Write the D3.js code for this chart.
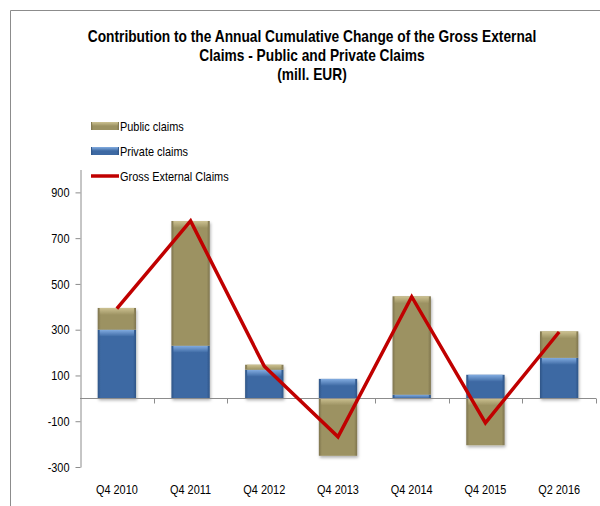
<!DOCTYPE html>
<html>
<head>
<meta charset="utf-8">
<script src="https://cdn.jsdelivr.net/npm/d3@7"></script>
<style>
  html, body { margin: 0; padding: 0; background: #fff; }
</style>
</head>
<body>
<div id="chart"></div>
<script>
// data (mill. EUR)
const categories = ["Q4 2010", "Q4 2011", "Q4 2012", "Q4 2013", "Q4 2014", "Q4 2015", "Q2 2016"];
const privateClaims = [300, 230, 125, 85, 16, 103, 177];
const publicClaims = [95, 545, 22, -251, 430, -205, 116];
const grossClaims = [392, 775, 140, -168, 444, -107, 290];
const yTicks = [-300, -100, 100, 300, 500, 700, 900];
const titleLines = [
  "Contribution to the Annual Cumulative Change of the Gross External",
  "Claims  - Public and Private Claims",
  "(mill.  EUR)"
];

function main(container) {
  const sel = d3.select(container);
  const width = 600;
  const height = 506;
  const font = "'Liberation Sans', Arial, sans-serif";

  // narrow look: squeeze text horizontally
  function squeeze(s, ratio) {
    s.each(function () {
      const w = this.getComputedTextLength();
      d3.select(this)
        .attr("textLength", w * ratio)
        .attr("lengthAdjust", "spacingAndGlyphs");
    });
  }

  const svg = sel.append("svg")
    .attr("width", width)
    .attr("height", height)
    .style("display", "block");

  const defs = svg.append("defs");

  function barGradient(id, edge, mid) {
    const g = defs.append("linearGradient").attr("id", id)
      .attr("x1", "0%").attr("x2", "100%").attr("y1", "0%").attr("y2", "0%");
    g.append("stop").attr("offset", "0%").attr("stop-color", edge);
    g.append("stop").attr("offset", "8%").attr("stop-color", mid);
    g.append("stop").attr("offset", "92%").attr("stop-color", mid);
    g.append("stop").attr("offset", "100%").attr("stop-color", edge);
  }
  barGradient("gradPrivate", "#2f5587", "#3d69a3");
  barGradient("gradPublic", "#7e744e", "#9c9262");

  function topGradient(id, light) {
    const g = defs.append("linearGradient").attr("id", id)
      .attr("x1", "0%").attr("x2", "0%").attr("y1", "0%").attr("y2", "100%");
    g.append("stop").attr("offset", "0%").attr("stop-color", light).attr("stop-opacity", 0.95);
    g.append("stop").attr("offset", "100%").attr("stop-color", light).attr("stop-opacity", 0);
  }
  topGradient("hiPrivate", "#86b0e4");
  topGradient("hiPublic", "#cfc494");

  const shadow = defs.append("filter").attr("id", "shadow")
    .attr("x", "-20%").attr("y", "-20%").attr("width", "140%").attr("height", "140%");
  shadow.append("feDropShadow")
    .attr("dx", 1).attr("dy", 2).attr("stdDeviation", 1.5)
    .attr("flood-color", "#000").attr("flood-opacity", 0.3);

  // frame lines (top and left)
  svg.append("line")
    .attr("x1", 10.5).attr("x2", width).attr("y1", 10.5).attr("y2", 10.5)
    .attr("stroke", "#8c8c8c");
  svg.append("line")
    .attr("x1", 10.5).attr("x2", 10.5).attr("y1", 10.5).attr("y2", height)
    .attr("stroke", "#8c8c8c");

  // title, scaled horizontally for a condensed face
  svg.append("g").selectAll("text")
    .data(titleLines)
    .enter()
    .append("text")
    .attr("transform", (d, i) => `translate(312,${42 + i * 19}) scale(0.86,1)`)
    .attr("text-anchor", "middle")
    .attr("font-family", font)
    .attr("font-weight", "bold")
    .attr("font-size", "16px")
    .attr("fill", "#000")
    .text((d) => d);

  // scales
  const x = d3.scaleBand()
    .domain(categories)
    .range([80, 596])
    .paddingInner(0.48)
    .paddingOuter(0.24);

  const y = d3.scaleLinear()
    .domain([-300, 1000])
    .range([467, 169.5]);

  // y axis
  const yAxis = svg.append("g")
    .attr("transform", "translate(80.5,0)")
    .call(d3.axisLeft(y).tickValues(yTicks).tickFormat((d) => String(d))
      .tickSize(5).tickSizeOuter(0));
  yAxis.select(".domain").attr("stroke", "#8c8c8c");
  yAxis.selectAll(".tick line").attr("stroke", "#8c8c8c");
  yAxis.selectAll(".tick text")
    .attr("font-family", font)
    .attr("font-size", "13px")
    .attr("fill", "#000")
    .attr("x", -11)
    .call(squeeze, 0.84);

  // bars
  const rows = categories.map((c, i) => ({
    cat: c,
    priv: privateClaims[i],
    pub: publicClaims[i]
  }));

  function segments(d) {
    // positives stack up from 0, negatives stack down from 0
    let pos = 0, neg = 0;
    const out = [];
    [["priv", "Private"], ["pub", "Public"]].forEach(([k, name]) => {
      const v = d[k];
      if (v >= 0) {
        out.push({ cat: d.cat, name, y0: pos, y1: pos + v });
        pos += v;
      } else {
        out.push({ cat: d.cat, name, y0: neg, y1: neg + v });
        neg += v;
      }
    });
    return out;
  }

  const segs = rows.flatMap(segments);
  const bw = x.bandwidth();
  const barG = svg.append("g").attr("filter", "url(#shadow)");

  const seg = barG.selectAll("g.seg")
    .data(segs)
    .enter()
    .append("g")
    .attr("class", "seg");

  seg.append("rect")
    .attr("x", (d) => x(d.cat))
    .attr("width", bw)
    .attr("y", (d) => y(Math.max(d.y0, d.y1)))
    .attr("height", (d) => Math.abs(y(d.y0) - y(d.y1)))
    .attr("fill", (d) => d.name === "Private" ? "url(#gradPrivate)" : "url(#gradPublic)");

  seg.append("rect")
    .attr("x", (d) => x(d.cat) + 2)
    .attr("width", bw - 4)
    .attr("y", (d) => y(Math.max(d.y0, d.y1)))
    .attr("height", (d) => Math.min(7, Math.abs(y(d.y0) - y(d.y1))))
    .attr("fill", (d) => d.name === "Private" ? "url(#hiPrivate)" : "url(#hiPublic)");

  // x axis at zero
  const xAxis = svg.append("g")
    .attr("transform", `translate(0,${Math.round(y(0)) + 0.5})`);
  xAxis.append("line")
    .attr("x1", 80).attr("x2", 596)
    .attr("stroke", "#8c8c8c");
  const step = x.step();
  xAxis.selectAll("line.tk")
    .data(categories)
    .enter()
    .append("line")
    .attr("class", "tk")
    .attr("x1", (d, i) => Math.round(80 + step * (i + 1)) + 0.5)
    .attr("x2", (d, i) => Math.round(80 + step * (i + 1)) + 0.5)
    .attr("y1", 0).attr("y2", 5)
    .attr("stroke", "#8c8c8c");

  // category labels at the bottom
  svg.append("g").selectAll("text")
    .data(categories)
    .enter()
    .append("text")
    .attr("x", (d) => x(d) + bw / 2)
    .attr("y", 494)
    .attr("text-anchor", "middle")
    .attr("font-family", font)
    .attr("font-size", "13px")
    .attr("fill", "#000")
    .text((d) => d)
    .call(squeeze, 0.84);

  // gross external claims line
  const line = d3.line()
    .x((d, i) => x(categories[i]) + bw / 2)
    .y((d) => y(d));
  svg.append("path")
    .datum(grossClaims)
    .attr("d", line)
    .attr("fill", "none")
    .attr("stroke", "#c00000")
    .attr("stroke-width", 3.5);

  // legend
  const legendItems = [
    { name: "Public claims", type: "bar", fill: "url(#gradPublic)", hi: "url(#hiPublic)" },
    { name: "Private claims", type: "bar", fill: "url(#gradPrivate)", hi: "url(#hiPrivate)" },
    { name: "Gross External Claims", type: "line" }
  ];
  const lg = svg.append("g").selectAll("g")
    .data(legendItems)
    .enter()
    .append("g")
    .attr("transform", (d, i) => `translate(91,${126 + i * 25})`);

  lg.filter((d) => d.type === "bar").append("rect")
    .attr("x", 0).attr("y", -4).attr("width", 28).attr("height", 8)
    .attr("fill", (d) => d.fill);
  lg.filter((d) => d.type === "bar").append("rect")
    .attr("x", 1).attr("y", -4).attr("width", 26).attr("height", 4)
    .attr("fill", (d) => d.hi);
  lg.filter((d) => d.type === "line").append("line")
    .attr("x1", 0).attr("x2", 28).attr("y1", 0).attr("y2", 0)
    .attr("stroke", "#c00000").attr("stroke-width", 3.5);

  lg.append("text")
    .attr("x", 29)
    .attr("y", 4.5)
    .attr("font-family", font)
    .attr("font-size", "13px")
    .attr("fill", "#000")
    .text((d) => d.name)
    .call(squeeze, 0.84);
}

main(document.getElementById("chart"));
</script>
</body>
</html>
